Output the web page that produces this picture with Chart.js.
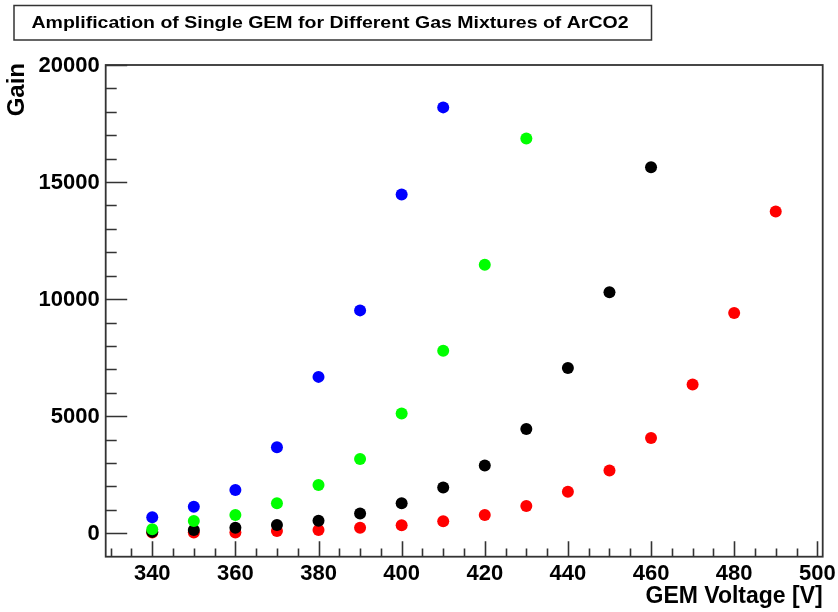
<!DOCTYPE html>
<html>
<head>
<meta charset="utf-8">
<script src="https://cdn.jsdelivr.net/npm/chart.js@4.4.1/dist/chart.umd.min.js"></script>
<style>
  html, body { margin: 0; padding: 0; background: #ffffff; }
  #c { display: block; }
</style>
</head>
<body>
<canvas id="c" width="838" height="612"></canvas>
<script>
// GEM voltage settings [V] for each gas mixture
const voltageBlue  = [340, 350, 360, 370, 380, 390, 400, 410];
const voltageGreen = [340, 350, 360, 370, 380, 390, 400, 410, 420, 430];
const voltageBlack = [340, 350, 360, 370, 380, 390, 400, 410, 420, 430, 440, 450, 460];
const voltageRed   = [340, 350, 360, 370, 380, 390, 400, 410, 420, 430, 440, 450, 460, 470, 480, 490];

// Measured effective gain
const gainBlue  = [680, 1130, 1850, 3670, 6680, 9520, 14470, 18190];
const gainGreen = [170, 520, 780, 1280, 2060, 3170, 5120, 7800, 11470, 16860];
const gainBlack = [60, 140, 240, 355, 540, 850, 1280, 1960, 2900, 4450, 7060, 10290, 15630];
const gainRed   = [30, 30, 30, 100, 140, 240, 340, 510, 780, 1165, 1775, 2685, 4065, 6350, 9410, 13740];

// Axis tick labels
const xTickLabels = [340, 360, 380, 400, 420, 440, 460, 480, 500];
const yTickLabels = [0, 5000, 10000, 15000, 20000];

const titleText = 'Amplification of Single GEM for Different Gas Mixtures of ArCO2';
const xTitle = 'GEM Voltage [V]';
const yTitle = 'Gain';

const toPoints = (xs, ys) => xs.map((x, i) => ({ x: x, y: ys[i] }));

const FONT = '"Liberation Sans", Arial, Helvetica, sans-serif';
const AXIS_COLOR = '#333333';

// title pave geometry
const TITLE_BOX = { x: 14, y: 5.5, w: 637.5, h: 34.5 };
const TITLE_TEXT_X = 31.5;
const TITLE_TEXT_W = 597;

// ROOT-style frame: inward ticks, bold labels, boxed title
const rootFrame = {
  id: 'rootFrame',
  afterDatasetsDraw(chart) {
    const ctx = chart.ctx;
    const a = chart.chartArea;
    const xs = chart.scales.x;
    const ys = chart.scales.y;
    ctx.save();

    // frame
    ctx.strokeStyle = AXIS_COLOR;
    ctx.lineWidth = 1.8;
    ctx.strokeRect(a.left, a.top, a.right - a.left, a.bottom - a.top);

    // y ticks (every 1000, major every 5000)
    ctx.lineWidth = 1.6;
    ctx.beginPath();
    for (let v = 0; v <= ys.max + 1e-6; v += 1000) {
      const py = Math.round(ys.getPixelForValue(v)) + 0.5;
      const len = (v % 5000 === 0) ? 21.5 : 11;
      ctx.moveTo(a.left, py);
      ctx.lineTo(a.left + len, py);
    }
    // x ticks (every 5, major every 20)
    for (let v = 330; v <= xs.max + 1e-6; v += 5) {
      const px = Math.round(xs.getPixelForValue(v)) + 0.5;
      const len = (v % 20 === 0) ? 15.5 : 8.3;
      ctx.moveTo(px, a.bottom);
      ctx.lineTo(px, a.bottom - len);
    }
    ctx.stroke();

    // tick labels
    ctx.fillStyle = '#000000';
    ctx.font = 'bold 22px ' + FONT;
    ctx.textAlign = 'right';
    ctx.textBaseline = 'middle';
    yTickLabels.forEach(v => {
      ctx.fillText(String(v), a.left - 6, ys.getPixelForValue(v) + 1);
    });
    ctx.textAlign = 'center';
    ctx.textBaseline = 'alphabetic';
    xTickLabels.forEach(v => {
      ctx.fillText(String(v), xs.getPixelForValue(v), a.bottom + 23);
    });

    // axis titles
    ctx.font = 'bold 23px ' + FONT;
    ctx.textAlign = 'right';
    ctx.fillText(xTitle, a.right, a.bottom + 46);
    ctx.save();
    ctx.font = 'bold 24px ' + FONT;
    ctx.translate(24, a.top - 2);
    ctx.rotate(-Math.PI / 2);
    ctx.textAlign = 'right';
    ctx.fillText(yTitle, 0, 0);
    ctx.restore();

    // title box
    ctx.fillStyle = '#ffffff';
    ctx.fillRect(TITLE_BOX.x, TITLE_BOX.y, TITLE_BOX.w, TITLE_BOX.h);
    ctx.strokeStyle = AXIS_COLOR;
    ctx.lineWidth = 1.5;
    ctx.strokeRect(TITLE_BOX.x, TITLE_BOX.y, TITLE_BOX.w, TITLE_BOX.h);
    ctx.fillStyle = '#000000';
    ctx.font = 'bold 16px ' + FONT;
    ctx.textAlign = 'left';
    ctx.textBaseline = 'alphabetic';
    const natural = ctx.measureText(titleText).width;
    ctx.save();
    ctx.translate(TITLE_TEXT_X, 27.5);
    ctx.scale(TITLE_TEXT_W / natural, 1);
    ctx.fillText(titleText, 0, 0);
    ctx.restore();

    ctx.restore();
  }
};

const mk = (xs, ys, color) => ({
  data: toPoints(xs, ys),
  backgroundColor: color,
  borderColor: color,
  borderWidth: 0,
  pointRadius: 6,
  pointHoverRadius: 6,
  showLine: false
});

new Chart(document.getElementById('c'), {
  type: 'scatter',
  data: {
    datasets: [
      mk(voltageBlue, gainBlue, '#0000ff'),
      mk(voltageGreen, gainGreen, '#00ff00'),
      mk(voltageBlack, gainBlack, '#000000'),
      mk(voltageRed, gainRed, '#ff0000')
    ]
  },
  options: {
    responsive: false,
    animation: false,
    events: [],
    layout: { padding: { left: 105.7, top: 65, right: 15.3, bottom: 55.3 } },
    plugins: { legend: { display: false }, tooltip: { enabled: false }, title: { display: false } },
    scales: {
      x: { type: 'linear', min: 328.8, max: 501.3, display: false },
      y: { type: 'linear', min: -1000, max: 20000, display: false }
    }
  },
  plugins: [rootFrame]
});
</script>
</body>
</html>
